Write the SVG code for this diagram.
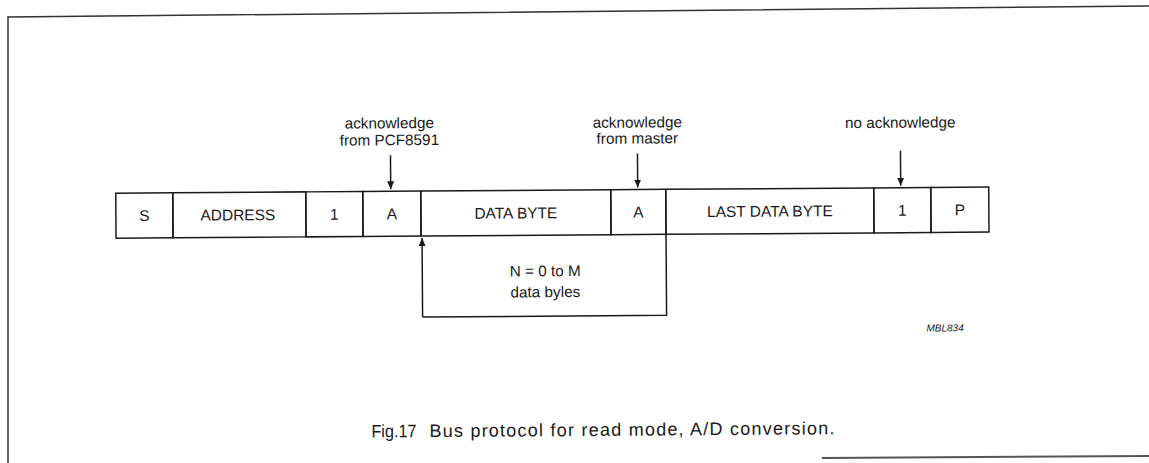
<svg xmlns="http://www.w3.org/2000/svg" width="1149" height="463" viewBox="0 0 1149 463">
<style>
  .ln{stroke:#1a1a1a;stroke-width:1.5;fill:none}
  .fr{stroke:#333;stroke-width:1.5;fill:none}
  .t{font-family:"Liberation Sans",Arial,sans-serif;fill:#1a1a1a}
  .bus{font-size:15.5px;text-anchor:middle}
  .lab{font-size:15.3px;text-anchor:middle}
  .cap{font-size:18px}
  .id{font-size:10px;font-style:italic;text-anchor:end}
</style>
<defs>
  <marker id="ah" viewBox="0 0 8 12" refX="8" refY="6" markerWidth="8" markerHeight="12" markerUnits="userSpaceOnUse" orient="auto">
    <path d="M0,2.5 L8,6 L0,9.5 Z" fill="#1a1a1a"/>
  </marker>
</defs>
<rect width="1149" height="463" fill="#fff"/>
<g id="frame">
  <path class="fr" d="M8,463 L8,17 L1149,6"/>
  <path d="M822,458 L1149,456" stroke="#555" stroke-width="2" fill="none"/>
</g>
<g transform="rotate(-0.4 575 230)">
  <g id="bus">
    <g id="n-S"><rect class="ln" x="116" y="190" width="57" height="45"/><text class="t bus" x="144.5" y="218">S</text></g>
    <g id="n-ADDRESS"><rect class="ln" x="173" y="190" width="133" height="45"/><text class="t bus" x="238" y="218">ADDRESS</text></g>
    <g id="n-1a"><rect class="ln" x="306" y="190" width="57" height="45"/><text class="t bus" x="334.5" y="218">1</text></g>
    <g id="n-A1"><rect class="ln" x="363" y="190" width="58" height="45"/><text class="t bus" x="392" y="218">A</text></g>
    <g id="n-DATA"><rect class="ln" x="421" y="190" width="190" height="45"/><text class="t bus" x="516" y="218">DATA BYTE</text></g>
    <g id="n-A2"><rect class="ln" x="611" y="190" width="55" height="45"/><text class="t bus" x="638.5" y="218">A</text></g>
    <g id="n-LAST"><rect class="ln" x="666" y="190" width="208" height="45"/><text class="t bus" x="770" y="218">LAST DATA BYTE</text></g>
    <g id="n-1b"><rect class="ln" x="874" y="190" width="57" height="45"/><text class="t bus" x="902.5" y="218">1</text></g>
    <g id="n-P"><rect class="ln" x="931" y="190" width="58" height="45"/><text class="t bus" x="960" y="218">P</text></g>
  </g>
  <g id="labels">
    <g id="lab-ack1"><text class="t lab" x="390" y="127">acknowledge</text><text class="t lab" x="390" y="144">from PCF8591</text></g>
    <g id="lab-ack2"><text class="t lab" x="638" y="128">acknowledge</text><text class="t lab" x="638" y="144">from master</text></g>
    <g id="lab-noack"><text class="t lab" x="901" y="130">no acknowledge</text></g>
    <g id="lab-n"><text class="t lab" x="545" y="276">N = 0 to M</text><text class="t lab" x="545" y="297">data byles</text></g>
    <text class="t id" x="963" y="334">MBL834</text>
  </g>
  <g id="connectors">
    <line class="ln" x1="391" y1="154" x2="391" y2="188" marker-end="url(#ah)"/>
    <line class="ln" x1="638" y1="154" x2="638" y2="188" marker-end="url(#ah)"/>
    <line class="ln" x1="901" y1="153" x2="901" y2="188" marker-end="url(#ah)"/>
    <line class="ln" x1="422" y1="316" x2="422" y2="237" marker-end="url(#ah)"/>
    <path class="ln" d="M666,235 L666,316 L422,316"/>
  </g>
  <g id="caption">
    <text class="t cap" x="370" y="436" textLength="45" lengthAdjust="spacingAndGlyphs">Fig.17</text>
    <text class="t cap" x="428" y="436" textLength="405" lengthAdjust="spacing">Bus protocol for read mode, A/D conversion.</text>
  </g>
</g>
</svg>
